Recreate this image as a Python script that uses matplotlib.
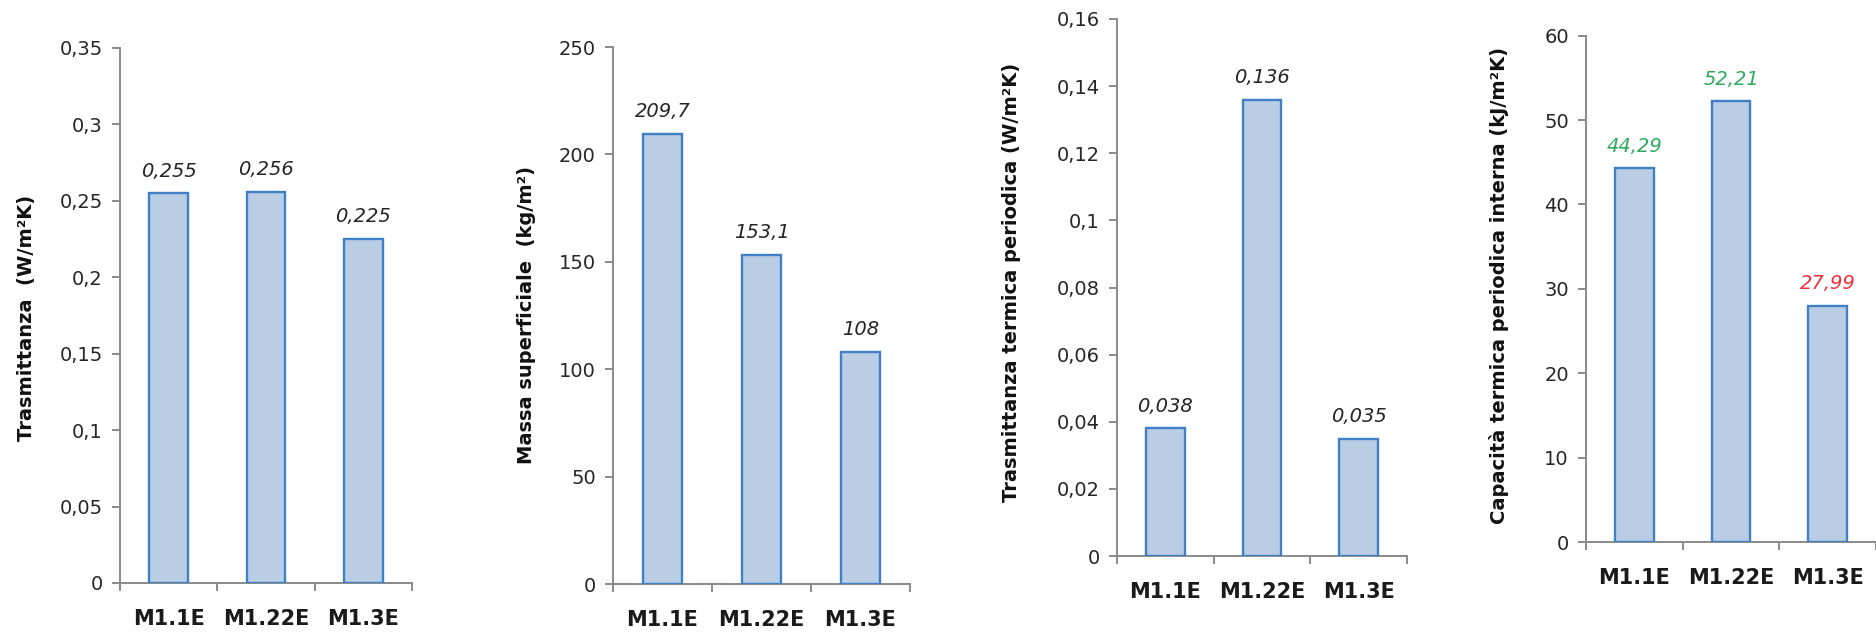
import matplotlib
matplotlib.use("Agg")
import matplotlib.pyplot as plt
from matplotlib.ticker import MultipleLocator, FuncFormatter, FixedLocator
from matplotlib import font_manager

# --- data -------------------------------------------------------------
categories = ["M1.1E", "M1.22E", "M1.3E"]

trasmittanza = [0.255, 0.256, 0.225]
massa_superficiale = [209.7, 153.1, 108]
trasmittanza_periodica = [0.038, 0.136, 0.035]
capacita_interna = [44.29, 52.21, 27.99]

ylabels = [
    "Trasmittanza  (W/m²K)",
    "Massa superficiale  (kg/m²)",
    "Trasmittanza termica periodica (W/m²K)",
    "Capacità termica periodica interna (kJ/m²K)",
]
value_formats = ["{:.3f}", "{:g}", "{:.3f}", "{:.2f}"]
y_limits = [0.35, 250, 0.16, 60]
y_steps = [0.05, 50, 0.02, 10]
capacita_colors = ["#2EAA5E", "#2EAA5E", "#F0303A"]

# --- styling -----------------------------------------------------------
W, H, DPI = 1876, 634, 100
FILL = "#B9CDE5"
EDGE = "#3F7FC6"
AXIS = "#8A8A8A"
TEXT = "#262626"

installed = {f.name for f in font_manager.fontManager.ttflist}
narrow = "Liberation Sans Narrow" if "Liberation Sans Narrow" in installed else "DejaVu Sans"

fig = plt.figure(figsize=(W / DPI, H / DPI), dpi=DPI)

# axes boxes in pixels: left, right, y of zero line, y of top
boxes = [
    (120, 412, 583, 48),
    (613, 910, 584, 47),
    (1117, 1407, 556, 19),
    (1586, 1876, 542, 35.6),
]
# y-label anchor (right edge of the rotated text, vertical centre) in pixels
label_pos = [(36, 318), (536, 315), (1021, 282), (1509, 286)]

series = [trasmittanza, massa_superficiale, trasmittanza_periodica, capacita_interna]
label_colors = [[TEXT] * 3, [TEXT] * 3, [TEXT] * 3, capacita_colors]


def comma(v):
    s = "{:g}".format(round(v, 6))
    return s.replace(".", ",")


for i, (vals, (l, r, y0, yt)) in enumerate(zip(series, boxes)):
    ax = fig.add_axes([l / W, (H - y0) / H, (r - l) / W, (y0 - yt) / H])
    x = list(range(len(categories)))
    ax.bar(x, vals, width=0.4, color=FILL, edgecolor=EDGE, linewidth=1.7, zorder=3)
    ax.set_xlim(-0.5, len(categories) - 0.5)
    ax.set_ylim(0, y_limits[i])

    for side in ("top", "right"):
        ax.spines[side].set_visible(False)
    for side in ("left", "bottom"):
        ax.spines[side].set_color(AXIS)
        ax.spines[side].set_linewidth(1.4)
        ax.spines[side].set_clip_on(False)

    ax.yaxis.set_major_locator(MultipleLocator(y_steps[i]))
    ax.yaxis.set_major_formatter(FuncFormatter(lambda v, p: comma(v)))
    ax.tick_params(axis="y", direction="out", length=5.8, width=1.4, color=AXIS,
                   pad=6.5, labelsize=14, labelcolor=TEXT)

    ax.set_xticks(x)
    ax.set_xticklabels(categories, fontsize=15, fontweight="bold", color="#1A1A1A")
    ax.tick_params(axis="x", which="major", length=0, pad=19)
    ax.xaxis.set_minor_locator(FixedLocator([k - 0.5 for k in range(len(categories) + 1)]))
    ax.tick_params(axis="x", which="minor", direction="out", length=5.8, width=1.4, color=AXIS)

    for xi, v, c in zip(x, vals, label_colors[i]):
        ax.annotate(value_formats[i].format(v).replace(".", ","), (xi, v),
                    xytext=(0, 12), textcoords="offset points", ha="center",
                    va="baseline", fontsize=14, style="italic", color=c)

    lx, ly = label_pos[i]
    ax.set_ylabel(ylabels[i], fontsize=14, fontweight="bold", family=narrow, color="#111111")
    ax.yaxis.set_label_coords((lx - l) / (r - l), (y0 - ly) / (y0 - yt))

fig.savefig("out.png", dpi=DPI, facecolor="white")
